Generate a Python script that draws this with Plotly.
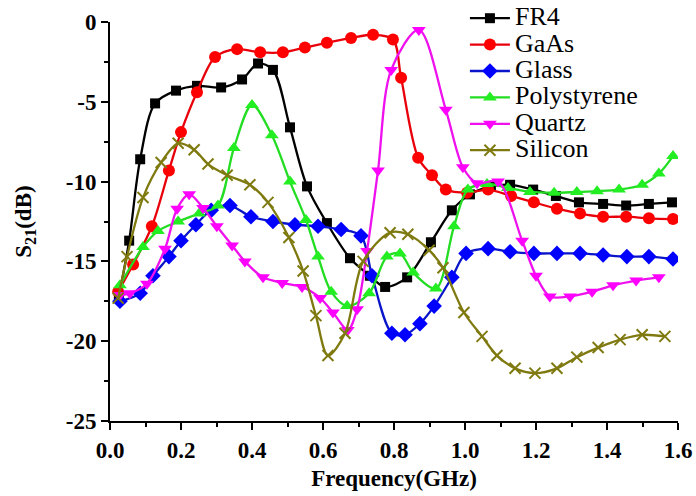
import plotly.graph_objects as go

# ---------------- data ----------------
fr4_f = [0.025, 0.054, 0.085, 0.127, 0.186, 0.245, 0.313, 0.372, 0.417, 0.459, 0.507, 0.555, 0.611,
         0.676, 0.732, 0.775, 0.837, 0.904, 0.963, 1.014, 1.073, 1.127, 1.192, 1.256, 1.321, 1.389,
         1.454, 1.518, 1.583]
fr4_v = [-17.2, -13.7, -8.6, -5.1, -4.3, -4.0, -4.1, -3.6, -2.6, -3.0, -6.6, -10.3, -12.6,
         -14.8, -15.9, -16.6, -16.0, -13.8, -11.8, -10.8, -10.3, -10.2, -10.5, -10.9, -11.3, -11.4,
         -11.5, -11.4, -11.3]

gaas_f = [0.023, 0.065, 0.118, 0.166, 0.200, 0.245, 0.296, 0.358, 0.423, 0.487, 0.549, 0.611, 0.679,
          0.741, 0.797, 0.820, 0.868, 0.907, 0.946, 1.006, 1.065, 1.130, 1.194, 1.259, 1.324, 1.389,
          1.454, 1.518, 1.586]
gaas_v = [-16.9, -15.2, -12.8, -9.3, -6.9, -4.4, -2.2, -1.7, -1.9, -1.9, -1.6, -1.3, -1.0,
          -0.8, -1.1, -3.5, -8.5, -9.6, -10.5, -10.7, -10.5, -10.9, -11.3, -11.7, -12.0, -12.2,
          -12.2, -12.3, -12.35]

glass_f = [0.028, 0.085, 0.121, 0.166, 0.200, 0.242, 0.285, 0.338, 0.397, 0.459, 0.521, 0.586, 0.651,
           0.707, 0.738, 0.794, 0.831, 0.873, 0.913, 0.963, 1.003, 1.065, 1.127, 1.194, 1.259, 1.324,
           1.389, 1.456, 1.518, 1.586]
glass_v = [-17.5, -17.0, -15.9, -14.7, -13.7, -12.7, -11.8, -11.5, -12.2, -12.5, -12.7, -12.8, -13.0,
           -13.4, -15.9, -19.5, -19.6, -18.9, -17.8, -16.0, -14.5, -14.2, -14.4, -14.5, -14.5, -14.5,
           -14.6, -14.7, -14.7, -14.85]

poly_f = [0.028, 0.093, 0.135, 0.192, 0.251, 0.304, 0.349, 0.400, 0.456, 0.507, 0.552, 0.586, 0.623,
          0.668, 0.730, 0.780, 0.817, 0.854, 0.918, 0.969, 1.008, 1.062, 1.121, 1.183, 1.251, 1.315,
          1.372, 1.434, 1.499, 1.546, 1.586]
poly_v = [-16.5, -14.1, -13.1, -12.5, -12.0, -11.5, -7.9, -5.2, -7.1, -10.0, -12.4, -14.7, -16.9,
          -17.8, -17.0, -14.7, -14.5, -15.7, -16.7, -12.8, -10.5, -10.15, -10.4, -10.65, -10.7, -10.65,
          -10.6, -10.5, -10.2, -9.5, -8.4]

quartz_f = [0.028, 0.056, 0.104, 0.155, 0.189, 0.223, 0.262, 0.301, 0.344, 0.380, 0.431, 0.485, 0.541,
            0.592, 0.628, 0.670, 0.696, 0.724, 0.755, 0.792, 0.870, 0.946, 0.994, 1.034, 1.093, 1.161,
            1.200, 1.239, 1.296, 1.358, 1.417, 1.482, 1.546]
quartz_v = [-17.1, -17.0, -16.4, -14.2, -11.7, -10.8, -11.65, -12.8, -14.0, -15.0, -16.0, -16.35, -16.6,
            -17.3, -18.2, -19.3, -18.0, -14.35, -9.3, -3.0, -0.5, -5.5, -9.1, -10.1, -10.0, -13.7,
            -15.9, -17.2, -17.2, -16.9, -16.5, -16.2, -16.0]

si_f = [0.023, 0.048, 0.093, 0.144, 0.192, 0.237, 0.276, 0.330, 0.394, 0.445, 0.504, 0.544, 0.580,
        0.614, 0.662, 0.713, 0.789, 0.839, 0.899, 0.938, 0.997, 1.048, 1.090, 1.141, 1.197, 1.259,
        1.315, 1.375, 1.437, 1.499, 1.563]
si_v = [-17.3, -14.7, -11.0, -8.8, -7.6, -8.0, -8.9, -9.6, -10.2, -11.3, -13.5, -15.6, -18.4,
        -20.9, -19.5, -15.0, -13.2, -13.3, -14.3, -15.4, -18.2, -19.7, -20.9, -21.7, -22.0, -21.7,
        -21.0, -20.4, -19.9, -19.6, -19.7]

x_ticks = [0.0, 0.2, 0.4, 0.6, 0.8, 1.0, 1.2, 1.4, 1.6]
x_ticktext = ["0.0", "0.2", "0.4", "0.6", "0.8", "1.0", "1.2", "1.4", "1.6"]
y_ticks = [0, -5, -10, -15, -20, -25]
y_ticktext = ["0", "-5", "-10", "-15", "-20", "-25"]

series = [
    ("FR4", fr4_f, fr4_v, "#000000", "#000000", "square", 10),
    ("GaAs", gaas_f, gaas_v, "#e8000b", "#ff0000", "circle", 12),
    ("Glass", glass_f, glass_v, "#0a14c8", "#0000ff", "diamond", 12),
    ("Polystyrene", poly_f, poly_v, "#22dd22", "#22ee22", "triangle-up", 12),
    ("Quartz", quartz_f, quartz_v, "#ee11ee", "#ff00ff", "triangle-down", 12),
    ("Silicon", si_f, si_v, "#7f7a10", "#7f7a10", "x-thin-open", 11),
]

fig = go.Figure()
for name, f, v, lc, mc, sym, ms in series:
    marker = dict(symbol=sym, size=ms, color=mc)
    if sym.startswith("x"):
        marker["line"] = dict(color=mc, width=2)
    else:
        marker["line"] = dict(width=0)
    fig.add_trace(go.Scatter(
        x=f, y=v, name="<span style='font-size:26px'>%s</span>" % name, mode="lines+markers",
        line=dict(color=lc, width=2.3, shape="spline", smoothing=0.9),
        marker=marker,
    ))

FONT = "Liberation Serif"
fig.update_layout(
    width=696, height=496,
    margin=dict(l=110, r=18, t=22, b=75, autoexpand=False),
    paper_bgcolor="white", plot_bgcolor="white",
    font=dict(family=FONT, color="black"),
    showlegend=True,
    legend=dict(xref="container", yref="container", x=0.668, y=1.0,
                xanchor="left", yanchor="top",
                bgcolor="rgba(0,0,0,0)", font=dict(family=FONT, size=18, color="black"),
                tracegroupgap=0, itemwidth=40),
)
fig.update_xaxes(
    range=[0, 1.6], showgrid=False, zeroline=False, automargin=False,
    showline=True, linecolor="black", linewidth=2,
    ticks="outside", ticklen=7, tickwidth=2, tickcolor="black",
    tickvals=x_ticks, ticktext=x_ticktext,
    minor=dict(dtick=0.1, ticks="outside", ticklen=4, tickwidth=2, tickcolor="black", showgrid=False),
    tickfont=dict(family=FONT, size=23, weight="bold"),
    title=dict(text="Frequency(GHz)", font=dict(family=FONT, size=23, weight="bold"), standoff=8),
)
fig.update_yaxes(
    range=[-25, 0], showgrid=False, zeroline=False, automargin=False,
    showline=True, linecolor="black", linewidth=2,
    ticks="outside", ticklen=7, tickwidth=2, tickcolor="black",
    tickvals=y_ticks, ticktext=y_ticktext,
    minor=dict(dtick=2.5, ticks="outside", ticklen=4, tickwidth=2, tickcolor="black", showgrid=False),
    tickfont=dict(family=FONT, size=23, weight="bold"),
    title=dict(text="S<sub>21</sub>(dB)", font=dict(family=FONT, size=23, weight="bold"), standoff=28),
)

fig.write_html("out.html")
